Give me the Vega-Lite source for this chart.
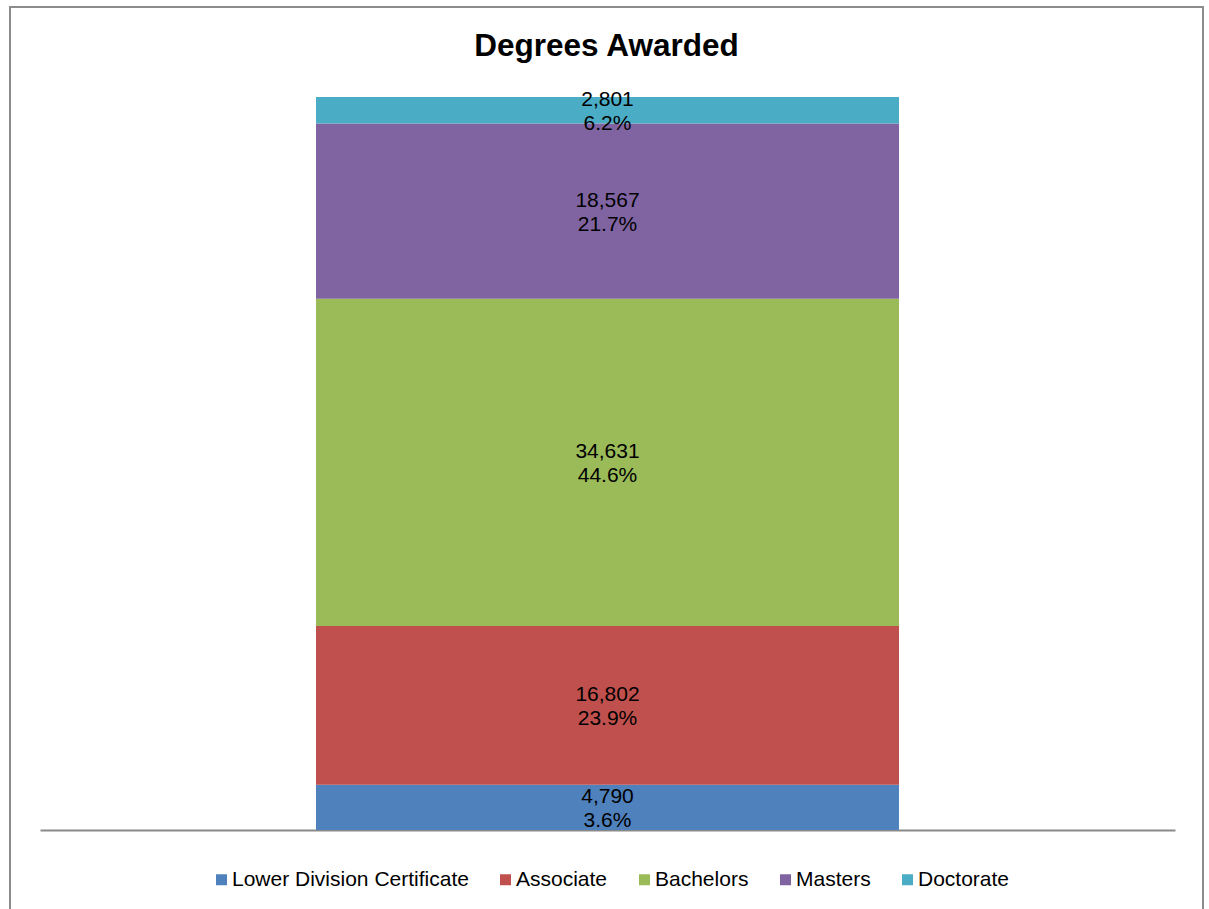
{
  "$schema": "https://vega.github.io/schema/vega-lite/v6.json",
  "autosize": {"type": "none"},
  "padding": {"left": 10, "top": 7, "right": 6, "bottom": 0},
  "width": 1193,
  "height": 903,
  "background": "white",
  "title": {"text": "Degrees Awarded", "font": "Liberation Sans", "fontSize": 31.5, "fontWeight": "bold", "color": "black", "anchor": "middle", "baseline": "alphabetic", "offset": -50, "dy": 30},
  "data": {"values": [
    {"group": "Degrees", "degree": "Lower Division Certificate", "rank": 1, "awarded": 4790, "share": 0.036},
    {"group": "Degrees", "degree": "Associate", "rank": 2, "awarded": 16802, "share": 0.239},
    {"group": "Degrees", "degree": "Bachelors", "rank": 3, "awarded": 34631, "share": 0.446},
    {"group": "Degrees", "degree": "Masters", "rank": 4, "awarded": 18567, "share": 0.217},
    {"group": "Degrees", "degree": "Doctorate", "rank": 5, "awarded": 2801, "share": 0.062}
  ]},
  "transform": [
    {"stack": "awarded", "groupby": ["group"], "sort": [{"field": "rank", "order": "ascending"}], "as": ["y0", "y1"]},
    {"calculate": "(datum.y0 + datum.y1) / 2", "as": "ymid"}
  ],
  "encoding": {
    "x": {
      "field": "group", "type": "nominal",
      "scale": {"range": [30, 1165], "paddingInner": 0, "paddingOuter": 0.4734},
      "axis": {"title": null, "labels": false, "ticks": false, "grid": false, "domain": true, "domainColor": "#898989", "domainWidth": 2, "offset": -80}
    }
  },
  "layer": [
    {
      "mark": {"type": "bar"},
      "encoding": {
        "y": {"field": "y0", "type": "quantitative", "scale": {"domain": [-8468, 87119], "nice": false, "zero": false}, "axis": null},
        "y2": {"field": "y1"},
        "color": {
          "field": "degree", "type": "nominal",
          "scale": {
            "domain": ["Lower Division Certificate", "Associate", "Bachelors", "Masters", "Doctorate"],
            "range": ["#4F81BD", "#C0504D", "#9BBB59", "#8064A2", "#4BACC6"]
          },
          "legend": {
            "orient": "none", "legendX": 201, "legendY": 862, "direction": "horizontal", "columns": 5,
            "title": null, "symbolType": "square", "symbolSize": 121, "symbolStrokeWidth": 0,
            "labelFont": "Liberation Sans", "labelFontSize": 21, "labelColor": "black", "labelOffset": 0,
            "columnPadding": 26, "labelLimit": 400
          }
        }
      }
    },
    {
      "mark": {"type": "text", "dy": -10, "font": "Liberation Sans", "fontSize": 21, "color": "black"},
      "encoding": {
        "y": {"field": "ymid", "type": "quantitative"},
        "text": {"field": "awarded", "format": ","}
      }
    },
    {
      "mark": {"type": "text", "dy": 14, "font": "Liberation Sans", "fontSize": 21, "color": "black"},
      "encoding": {
        "y": {"field": "ymid", "type": "quantitative"},
        "text": {"field": "share", "format": ".1%"}
      }
    }
  ],
  "config": {
    "view": {"stroke": "#8c8c8c", "strokeWidth": 2}
  }
}
